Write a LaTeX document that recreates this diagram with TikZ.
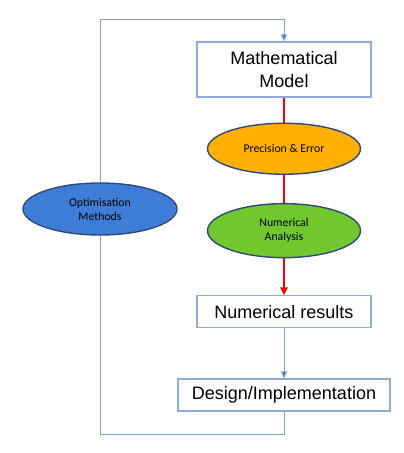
\documentclass[tikz,border=0pt]{standalone}
\usepackage{fontspec}
\setmainfont{Liberation Sans}
\newfontfamily\calib{Carlito}
\usetikzlibrary{shapes.geometric, arrows.meta, positioning}
\definecolor{boxline}{HTML}{8FAADC}
\definecolor{loopline}{HTML}{7FA3D3}
\definecolor{tipblue}{HTML}{3A6FB8}
\definecolor{ellline}{HTML}{2E4A7A}
\definecolor{amber}{HTML}{FFB000}
\definecolor{leaf}{HTML}{70C72E}
\definecolor{sky}{HTML}{3D7DD8}

\begin{document}
\begin{tikzpicture}[x=1pt, y=1pt,
    node distance=25pt,
    b/.style={rectangle, draw=boxline, line width=1.1pt, fill=white, align=center, font=\fontsize{18}{23}\selectfont, inner sep=0pt},
    e/.style={ellipse, draw=ellline, line width=1.4pt, align=center, minimum width=153pt, font=\calib\fontsize{11.8}{14}\selectfont, inner sep=0pt},
    red/.style={draw=red, line width=2pt},
    blue/.style={draw=loopline, line width=1pt},
    arrow/.style={-{Triangle[length=7pt, width=6pt, fill=tipblue]}},
    rarrow/.style={-{Triangle[length=8pt, width=7pt]}}]
    \useasboundingbox (0,0) rectangle (404,-453);
    \node[b, minimum width=174pt, minimum height=55pt] (mm) at (284,-69.5) {Mathematical\\Model};
    \node[e, fill=amber, minimum height=51pt, below=25pt of mm] (pe) {Precision \& Error};
    \node[e, fill=leaf, minimum height=54pt, below=28pt of pe] (na) {Numerical\\Analysis};
    \node[b, minimum width=174pt, minimum height=32pt, below=37pt of na] (nr) {Numerical results};
    \node[b, minimum width=212pt, minimum height=32pt, below=50pt of nr] (di) {Design/Implementation};
    \coordinate (lb) at (100,-434);
    \coordinate (lt) at (100,-19);
    % feedback loop on the left
    \draw[blue] (di.south) |- (lb) -- (lt);
    \draw[blue, arrow] (lt) -| (mm.north);
    \node[e, fill=sky, minimum width=154pt, minimum height=52pt] (om) at (100,-209) {Optimisation\\Methods};
    \draw[red] (mm) -- (pe); \draw[red] (pe) -- (na); \draw[red, rarrow] (na) -- (nr);
    \draw[blue, arrow] (nr) -- (di);
\end{tikzpicture}
\end{document}
